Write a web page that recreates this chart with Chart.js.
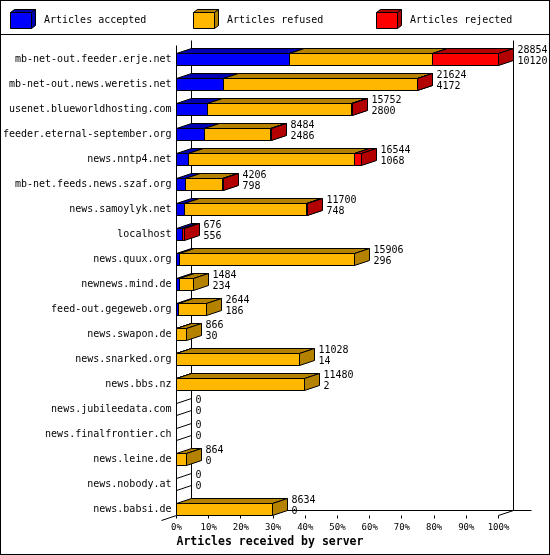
<!DOCTYPE html>
<html>
<head>
<meta charset="utf-8">
<title>Articles received by server</title>
<script src="https://cdn.jsdelivr.net/npm/chart.js@4/dist/chart.umd.min.js"></script>
<style>
  html, body { margin: 0; padding: 0; background: #fff; }
  canvas { display: block; }
</style>
</head>
<body>
<canvas id="serverChart" width="550" height="555"></canvas>
<script>
'use strict';

const servers = [
  'mb-net-out.feeder.erje.net',
  'mb-net-out.news.weretis.net',
  'usenet.blueworldhosting.com',
  'feeder.eternal-september.org',
  'news.nntp4.net',
  'mb-net.feeds.news.szaf.org',
  'news.samoylyk.net',
  'localhost',
  'news.quux.org',
  'newnews.mind.de',
  'feed-out.gegeweb.org',
  'news.swapon.de',
  'news.snarked.org',
  'news.bbs.nz',
  'news.jubileedata.com',
  'news.finalfrontier.ch',
  'news.leine.de',
  'news.nobody.at',
  'news.babsi.de'
];
const accepted = [10120, 4172, 2800, 2486, 1068, 798, 748, 556, 296, 234, 186, 30, 14, 2, 0, 0, 0, 0, 0];
const refused = [12830, 17400, 12842, 5948, 14866, 3295, 10915, 0, 15610, 1250, 2458, 836, 11014, 11478, 0, 0, 864, 0, 8634];
const rejected = [5904, 52, 110, 50, 610, 113, 37, 120, 0, 0, 0, 0, 0, 0, 0, 0, 0, 0, 0];
const percentTicks = [0, 10, 20, 30, 40, 50, 60, 70, 80, 90, 100];

const totals = servers.map((_, i) => accepted[i] + refused[i] + rejected[i]);
const maxTotal = Math.max(...totals);

const FONT = '"DejaVu Sans Mono", "Liberation Mono", monospace';
const DX = 15;
const DY = 5;

// crisp 1px lines
const px = (v) => Math.round(v - 0.5) + 0.5;

const drawBox = (ctx, x0, x1, top, bot, dx, dy, face, shade) => {
  ctx.strokeStyle = '#000';
  ctx.lineWidth = 1;

  ctx.beginPath();
  ctx.rect(x0, top, x1 - x0, bot - top);
  ctx.fillStyle = face;
  ctx.fill();
  ctx.stroke();

  ctx.beginPath();
  ctx.moveTo(x0, top);
  ctx.lineTo(x0 + dx, top - dy);
  ctx.lineTo(x1 + dx, top - dy);
  ctx.lineTo(x1, top);
  ctx.closePath();
  ctx.fillStyle = shade;
  ctx.fill();
  ctx.stroke();

  ctx.beginPath();
  ctx.moveTo(x1, top);
  ctx.lineTo(x1 + dx, top - dy);
  ctx.lineTo(x1 + dx, bot - dy);
  ctx.lineTo(x1, bot);
  ctx.closePath();
  ctx.fill();
  ctx.stroke();
};

const line = (ctx, x1, y1, x2, y2) => {
  ctx.beginPath();
  ctx.moveTo(x1, y1);
  ctx.lineTo(x2, y2);
  ctx.stroke();
};

const bars3d = {
  id: 'bars3d',
  beforeDatasetsDraw(chart) {
    const { ctx, chartArea, scales } = chart;
    const xs = scales.x;
    const left = px(xs.left);
    const right = px(xs.right);
    const back = left + DX;
    const topBack = px(chartArea.top - 19);
    const bottomFront = px(chartArea.bottom + 6);
    const bottomBack = bottomFront - DY;

    ctx.save();
    ctx.strokeStyle = '#000';
    ctx.lineWidth = 1;

    // walls
    line(ctx, left, topBack + DY, left, bottomFront);
    line(ctx, back, topBack, back, bottomBack);
    line(ctx, right + DX, topBack, right + DX, bottomBack);
    line(ctx, back, bottomBack, right + DX + 18, bottomBack);
    line(ctx, left - DX, bottomFront + DY, left, bottomFront);
    line(ctx, right, bottomFront, right + DX, bottomBack);
    percentTicks.forEach((p) => {
      const tx = px(xs.getPixelForValue(p / 100 * maxTotal));
      line(ctx, tx, bottomFront, tx, bottomFront + 3);
    });

    // bars, segment after segment so each front covers the previous side
    const metas = [0, 1, 2].map((d) => chart.getDatasetMeta(d));
    servers.forEach((name, i) => {
      const lastEl = metas[2].data[i];
      const top = px(lastEl.y - lastEl.height / 2);
      const bot = top + 12;

      metas.forEach((meta, d) => {
        const ds = chart.data.datasets[d];
        if (!ds.data[i]) return;
        const el = meta.data[i];
        drawBox(ctx, px(el.base), px(el.x), top, bot, DX, DY, ds.backgroundColor, ds.shadeColor);
      });

      if (totals[i] === 0) {
        line(ctx, left, top, left + DX, top - DY);
        line(ctx, left, bot, left + DX, bot - DY);
      }

      const tx = px(lastEl.x) + DX + 4;
      ctx.fillStyle = '#000';
      ctx.font = '10px ' + FONT;
      ctx.textAlign = 'left';
      ctx.textBaseline = 'middle';
      ctx.fillText(String(totals[i]), tx, lastEl.y - 9);
      ctx.fillText(String(accepted[i]), tx, lastEl.y + 2);
    });

    ctx.restore();
    return false;
  },
  afterDraw(chart) {
    const { ctx, width, height } = chart;
    ctx.save();
    ctx.strokeStyle = '#000';
    ctx.lineWidth = 1;

    // legend
    const slots = [10, 193, 376];
    chart.data.datasets.forEach((ds, d) => {
      const x0 = slots[d] + 0.5;
      drawBox(ctx, x0, x0 + 21, 12.5, 28.5, 4, 3, ds.backgroundColor, ds.shadeColor);
      ctx.fillStyle = '#000';
      ctx.font = '10px ' + FONT;
      ctx.textAlign = 'left';
      ctx.textBaseline = 'middle';
      ctx.fillText(ds.label, slots[d] + 34, 20.5);
    });
    line(ctx, 0, 34.5, width, 34.5);

    ctx.strokeRect(0.5, 0.5, width - 1, height - 1);
    ctx.restore();
  }
};

const datasets = [
  { label: 'Articles accepted', data: accepted, backgroundColor: '#0000ff', shadeColor: '#0000b3' },
  { label: 'Articles refused', data: refused, backgroundColor: '#ffb700', shadeColor: '#b58200' },
  { label: 'Articles rejected', data: rejected, backgroundColor: '#ff0000', shadeColor: '#b30000' }
].map((ds) => Object.assign(ds, { borderColor: '#000', borderWidth: 1, barThickness: 12, clip: false }));

new Chart(document.getElementById('serverChart'), {
  type: 'bar',
  data: { labels: servers, datasets: datasets },
  plugins: [bars3d],
  options: {
    indexAxis: 'y',
    responsive: false,
    animation: false,
    devicePixelRatio: 1,
    layout: { padding: { top: 59.5, right: 51.5, left: 0, bottom: 0 } },
    plugins: {
      legend: { display: false },
      tooltip: { enabled: false }
    },
    scales: {
      y: {
        stacked: true,
        offset: false,
        grid: { display: false, drawTicks: false },
        border: { display: false },
        ticks: {
          autoSkip: false,
          color: '#000',
          padding: 5,
          font: { family: FONT, size: 10 }
        },
        afterFit: (scale) => { scale.width = 176.5; }
      },
      x: {
        stacked: true,
        min: 0,
        max: maxTotal,
        grid: { display: false, drawTicks: false },
        border: { display: false },
        afterBuildTicks: (scale) => {
          scale.ticks = percentTicks.map((p) => ({ value: p / 100 * maxTotal }));
        },
        ticks: {
          autoSkip: false,
          maxRotation: 0,
          color: '#000',
          padding: 13,
          font: { family: FONT, size: 9 },
          callback: (value) => Math.round(value / maxTotal * 100) + '%'
        },
        title: {
          display: true,
          text: 'Articles received by server',
          align: 'start',
          color: '#000',
          font: { family: FONT, size: 11.5, weight: 'bold' },
          padding: { top: 0, bottom: 6 }
        },
        afterFit: (scale) => { scale.height = 45.5; }
      }
    }
  }
});
</script>
</body>
</html>
